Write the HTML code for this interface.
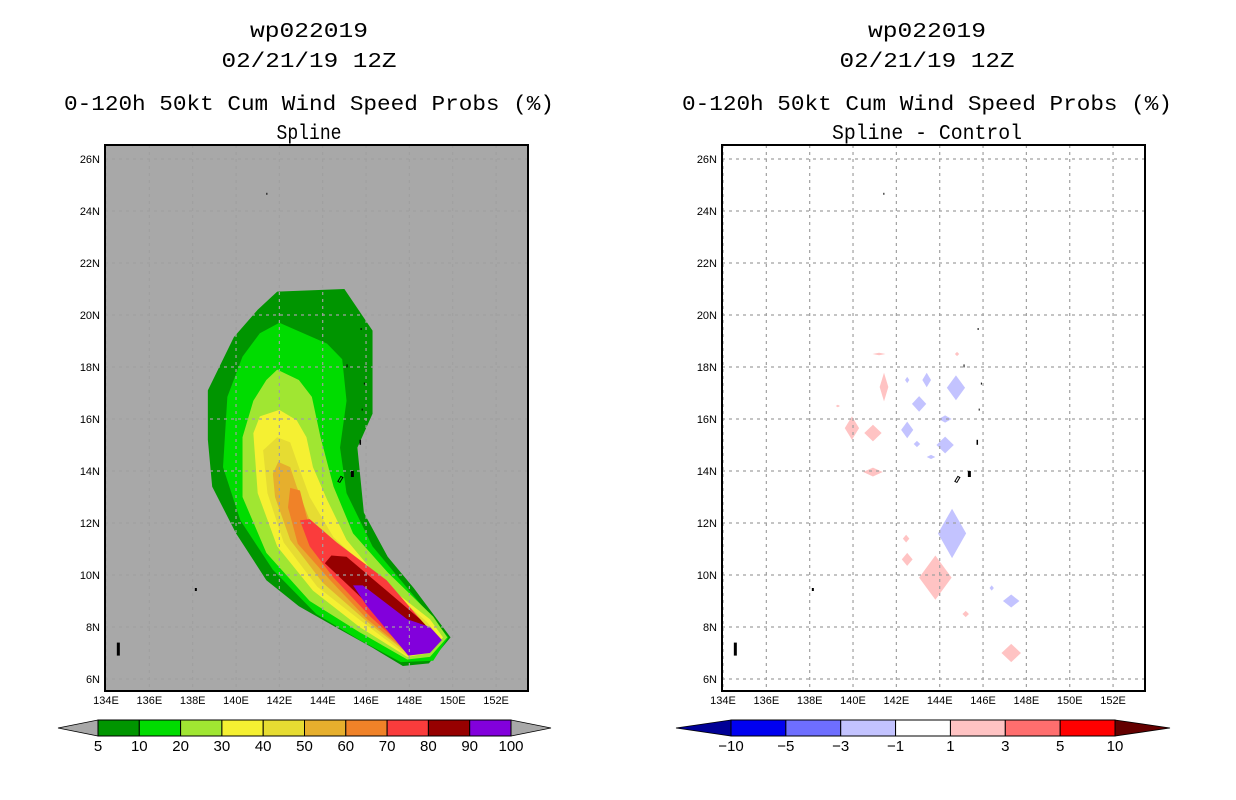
<!DOCTYPE html>
<html><head><meta charset="utf-8"><style>
body{margin:0;background:#fff;width:1236px;height:800px;overflow:hidden}
svg{display:block}
text{font-family:"Liberation Sans",sans-serif;fill:#000}
text.ttl{font-family:"Liberation Mono",monospace}
</style></head><body>
<svg id="fig" width="1236" height="800" xmlns="http://www.w3.org/2000/svg"></svg>
<script>
// ---- data ----
const lonTicks=[134,136,138,140,142,144,146,148,150,152];
const latTicks=[6,8,10,12,14,16,18,20,22,24,26];
const probLevels=[5,10,20,30,40,50,60,70,80,90];
const probColors=['#009500','#00dc00','#a0e632','#f5f032','#e6dc32','#e6af2d','#f08228','#fa3c3c','#960000','#8200dc'];
const p5=[[141.9,20.9],[145.0,21.0],[146.3,19.4],[146.3,16.2],[145.6,14.9],[145.9,12.4],[147.0,10.7],[148.2,9.5],[149.9,7.6],[148.9,6.6],[147.7,6.5],[146.3,7.2],[144.8,7.9],[142.9,8.8],[141.4,9.8],[140.0,11.6],[138.9,13.4],[138.7,15.2],[138.7,17.1],[139.9,19.15],[141.0,20.2]];
const p10=[[142.0,19.7],[144.2,18.9],[144.9,18.3],[145.1,16.7],[144.8,14.9],[145.1,13.15],[146.3,11.1],[147.9,9.5],[149.8,7.6],[149.1,6.7],[147.6,6.65],[145.7,7.5],[143.7,8.5],[141.7,10.2],[140.2,12.1],[139.4,14.15],[139.6,16.85],[140.3,18.4],[141.1,19.3]];
const p20=[[141.9,17.9],[142.9,17.5],[143.5,16.85],[143.9,15.3],[144.5,13.4],[145.4,11.6],[147.0,10.1],[149.1,8.4],[149.75,7.6],[148.95,6.85],[147.9,6.75],[145.7,7.8],[143.4,9.0],[141.4,10.85],[140.3,13.0],[140.3,15.3],[140.8,16.7],[141.4,17.5]];
const p30=[[142.0,16.35],[142.8,15.95],[143.25,15.3],[143.55,14.15],[144.2,12.9],[145.1,11.35],[146.65,9.8],[148.95,8.3],[149.55,7.6],[148.95,7.0],[147.9,6.85],[145.7,8.0],[143.55,9.4],[141.9,11.1],[141.0,13.15],[140.8,15.45],[141.1,16.1]];
const p40=[[141.9,15.3],[142.5,15.1],[142.9,14.15],[143.4,13.0],[144.5,11.45],[146.5,9.9],[148.8,8.2],[149.4,7.6],[148.8,7.1],[147.9,6.9],[145.9,8.15],[143.75,9.55],[142.2,11.25],[141.45,13.15],[141.25,14.8]];
const p50=[[141.95,14.35],[142.5,14.15],[142.8,13.4],[143.4,12.1],[144.65,11.1],[146.5,9.8],[148.6,8.15],[149.3,7.6],[148.8,7.2],[147.9,7.0],[146.05,8.2],[144.0,9.7],[142.5,11.35],[141.8,13.0],[141.7,13.9]];
const p60=[[142.5,13.35],[142.95,13.25],[143.3,12.1],[144.8,10.85],[146.65,9.55],[148.5,8.15],[149.25,7.6],[148.8,7.25],[147.9,7.05],[146.05,8.3],[144.35,9.8],[142.85,11.2],[142.4,12.6]];
const p70=[[142.95,12.1],[143.4,12.15],[144.65,11.25],[146.95,9.8],[148.5,8.3],[149.15,7.6],[148.7,7.3],[147.9,7.1],[146.2,8.4],[144.5,9.9],[143.4,11.1]];
const p80=[[144.4,10.75],[145.1,10.7],[146.95,9.4],[148.5,8.3],[149.05,7.8],[149.05,7.5],[147.9,7.25],[146.5,8.55],[145.25,9.55],[144.1,10.45]];
const p90=[[145.4,9.6],[145.85,9.6],[147.9,8.3],[148.95,8.0],[149.5,7.5],[148.95,7.0],[147.95,6.9],[146.95,7.9],[146.05,8.8]];
const probPolys=[p5,p10,p20,p30,p40,p50,p60,p70,p80,p90];
// difference blobs
const blobLon=[141.43,139.95,140.92,140.92,144.75,143.4,143.05,142.5,144.25,144.25,142.95,143.6,142.5,144.57,142.45,142.5,143.8,145.2,147.3,147.3,146.4,144.8,141.2,139.3];
const blobLat=[17.23,15.65,15.46,13.96,17.2,17.5,16.58,15.58,16.0,15.0,15.04,14.54,17.5,11.6,11.4,10.6,9.9,8.5,9.0,7.0,9.5,18.5,18.5,16.5];
const blobRx=[0.2,0.33,0.4,0.45,0.42,0.2,0.33,0.28,0.3,0.4,0.15,0.2,0.1,0.65,0.15,0.25,0.75,0.15,0.38,0.45,0.1,0.1,0.3,0.1];
const blobRy=[0.55,0.45,0.32,0.17,0.48,0.28,0.3,0.32,0.14,0.32,0.12,0.08,0.12,0.95,0.15,0.25,0.85,0.12,0.25,0.35,0.1,0.08,0.05,0.05];
const blobVal=[2,2,2,2,-2,-2,-2,-2,-2,-2,-2,-2,-2,-2,2,2,2,2,-2,2,-2,2,2,2];
const diffLevels=[-10,-5,-3,-1,1,3,5,10];
const diffColors=['#0000f0','#6e6eff','#c3c3ff','#ffffff','#ffc3c3','#ff6e6e','#ff0000'];
// ---- helpers ----
const svg=document.getElementById('fig');const NS='http://www.w3.org/2000/svg';
function mk(tag,attrs,parent){const e=document.createElementNS(NS,tag);for(const k in attrs)e.setAttribute(k,attrs[k]);(parent||svg).appendChild(e);return e;}
const Y0=145,Y1=691;
function yScale(lat){return 159+26*(26-lat);}
function panel(x0,bg,name){
  const g=mk('g',{});
  
  
  const xs=lon=>x0+1+21.67*(lon-134);
  mk('rect',{x:x0,y:Y0,width:423,height:Y1-Y0,fill:bg},g);
  return {g,xs};
}
function title(cx,lines,widths){
  const ys=[37,67,110,139];
  lines.forEach((t,i)=>{const e=mk('text',{class:'ttl',x:cx,y:ys[i],'text-anchor':'middle','font-size':21,textLength:widths[i],lengthAdjust:'spacingAndGlyphs'});e.textContent=t;
  
  });
}
function grid(P,x0){
  lonTicks.forEach(l=>{mk('line',{x1:P.xs(l),x2:P.xs(l),y1:Y0,y2:Y1,stroke:'#a0a0a0','stroke-dasharray':'3,4','stroke-width':1.2},P.g);
    const t=mk('text',{x:P.xs(l),y:704,'text-anchor':'middle','font-size':11},P.g);t.textContent=l+'E';
    
    });
  latTicks.forEach(l=>{mk('line',{x1:x0,x2:x0+423,y1:yScale(l),y2:yScale(l),stroke:'#a0a0a0','stroke-dasharray':'3,4','stroke-width':1.2},P.g);
    const t=mk('text',{x:x0-5,y:yScale(l)+4,'text-anchor':'end','font-size':11},P.g);t.textContent=l+'N';
    
    });
}
function land(P){
  const pts=[[145.7,15.2,1.5,5],[145.3,14.0,3,6],[145.1,18.1,1,3],[145.8,16.4,1,2],[145.9,17.4,1,2],[145.75,19.5,1,2],[141.4,24.7,1,2],[138.1,9.5,2,3],[134.5,7.4,3,13]];
  pts.forEach(p=>{const r=mk('rect',{x:P.xs(p[0]),y:yScale(p[1]),width:p[2],height:p[3],fill:'#000'},P.g);
  
  });
  mk('path',{d:`M${P.xs(144.7)} ${yScale(13.6)} l3 -5 l2 1 l-3 5 z`,fill:'none',stroke:'#000','stroke-width':1},P.g);
}
// ---- left panel ----
const L=panel(105,'#a8a8a8','probability-map');
probPolys.forEach((poly,i)=>{
  const p=mk('polygon',{points:poly.map(q=>L.xs(q[0])+','+yScale(q[1])).join(' '),fill:probColors[i]},L.g);
  
  
});
grid(L,105);land(L);
mk('rect',{x:105,y:Y0,width:423,height:Y1-Y0,fill:'none',stroke:'#000','stroke-width':2},L.g);
title(309,['wp022019','02/21/19 12Z','0-120h 50kt Cum Wind Speed Probs (%)','Spline'],[118,175,490,65]);
// ---- right panel ----
const R=panel(722,'#ffffff','difference-map');
blobLon.forEach((lo,i)=>{
  const cx=R.xs(lo),cy=yScale(blobLat[i]),rx=blobRx[i]*21.67,ry=blobRy[i]*26;
  const col=blobVal[i]>0?'#ffc3c3':'#c3c3ff';
  const p=mk('polygon',{points:`${cx},${cy-ry} ${cx+rx},${cy} ${cx},${cy+ry} ${cx-rx},${cy}`,fill:col},R.g);
  
  
});
grid(R,722);land(R);
mk('rect',{x:722,y:Y0,width:423,height:Y1-Y0,fill:'none',stroke:'#000','stroke-width':2},R.g);
title(927,['wp022019','02/21/19 12Z','0-120h 50kt Cum Wind Speed Probs (%)','Spline - Control'],[118,175,490,190]);
// ---- colorbars ----
function colorbar(x0,w,cols,labels,leftCol,rightCol,tri,name){
  const g=mk('g',{});
  
  
  const y=720,h=16,n=cols.length,x1=x0+w*n;
  mk('polygon',{points:`${x0},${y} ${x0-tri},${y+h/2} ${x0},${y+h}`,fill:leftCol,stroke:'#000','stroke-width':0.8},g);
  mk('polygon',{points:`${x1},${y} ${x1+tri},${y+h/2} ${x1},${y+h}`,fill:rightCol,stroke:'#000','stroke-width':0.8},g);
  cols.forEach((c,i)=>mk('rect',{x:x0+i*w,y:y,width:w,height:h,fill:c,stroke:'#000','stroke-width':1},g));
  labels.forEach((l,i)=>{const t=mk('text',{x:x0+i*w,y:751,'text-anchor':'middle','font-size':15},g);t.textContent=String(l).replace('-','\u2212');});
}
colorbar(98,41.3,probColors,probLevels.concat([100]),'#a8a8a8','#a8a8a8',40,'probability-colorbar');
colorbar(731,54.86,diffColors,diffLevels,'#000096','#640000',55,'difference-colorbar');
</script>
</body></html>
